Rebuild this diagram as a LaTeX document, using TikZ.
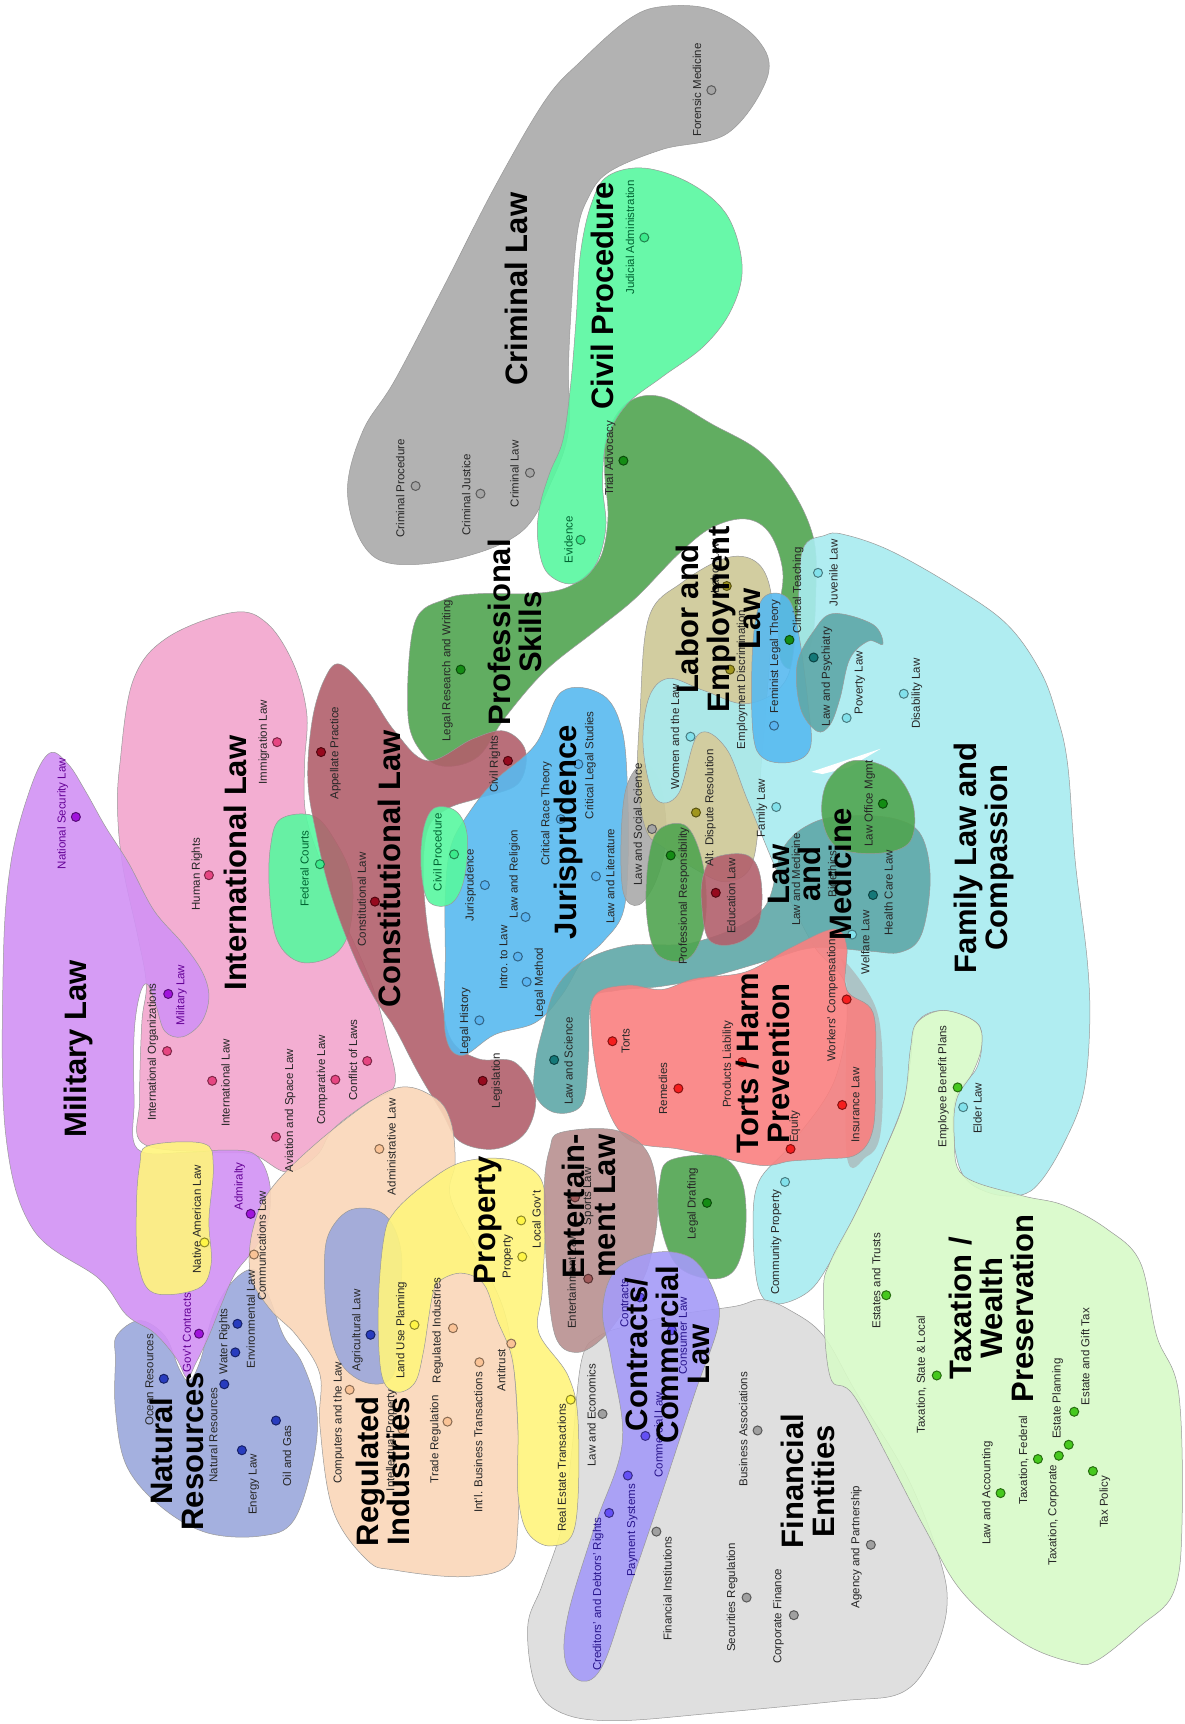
\documentclass[tikz,border=0pt]{standalone}
\usepackage{fontspec}
\setmainfont{Liberation Sans}
\definecolor{crim}{RGB}{170,170,170}
\definecolor{civ}{RGB}{88,248,160}
\definecolor{prof}{RGB}{80,165,80}
\definecolor{intl}{RGB}{242,166,206}
\definecolor{mil}{RGB}{210,146,245}
\definecolor{con}{RGB}{178,96,108}
\definecolor{jur}{RGB}{88,186,240}
\definecolor{lab}{RGB}{206,200,150}
\definecolor{fam}{RGB}{168,236,240}
\definecolor{med}{RGB}{95,168,168}
\definecolor{tort}{RGB}{250,128,128}
\definecolor{prop}{RGB}{255,245,125}
\definecolor{reg}{RGB}{250,215,185}
\definecolor{nat}{RGB}{155,168,220}
\definecolor{ent}{RGB}{185,145,145}
\definecolor{comm}{RGB}{165,155,248}
\definecolor{fin}{RGB}{220,220,220}
\definecolor{tax}{RGB}{216,250,200}
\definecolor{dcrim}{RGB}{165,165,165}
\definecolor{dciv}{RGB}{60,235,140}
\definecolor{dprof}{RGB}{20,140,20}
\definecolor{dintl}{RGB}{230,70,130}
\definecolor{dmil}{RGB}{160,20,220}
\definecolor{dcon}{RGB}{150,10,30}
\definecolor{djur}{RGB}{90,180,240}
\definecolor{dlab}{RGB}{160,150,30}
\definecolor{dfam}{RGB}{130,225,235}
\definecolor{dmed}{RGB}{20,120,120}
\definecolor{dtort}{RGB}{245,30,30}
\definecolor{dprop}{RGB}{255,245,70}
\definecolor{dreg}{RGB}{250,195,150}
\definecolor{dnat}{RGB}{40,60,190}
\definecolor{dent}{RGB}{160,90,90}
\definecolor{dcomm}{RGB}{100,80,245}
\definecolor{dfin}{RGB}{160,160,160}
\definecolor{dtax}{RGB}{70,200,30}
\definecolor{tmil}{RGB}{100,0,150}
\definecolor{tciv}{RGB}{0,100,50}
\definecolor{tcomm}{RGB}{40,20,140}
\newcommand{\itm}[6]{\node[lbl,text=#6] (#1) at (#2) {#3}; \node[dotn=#5] (#1d) at (#4) {};}
\begin{document}
\begin{tikzpicture}[x=1.0994pt,y=-1.0994pt,
  region/.style={draw=black!40, line width=0.5pt, fill opacity=0.9},
  lbl/.style={rotate=90, font=\fontsize{11.5}{12}\selectfont, inner sep=0pt},
  ttl/.style={rotate=90, font=\fontsize{31}{31}\selectfont\bfseries, align=center, inner sep=0pt},
  dotn/.style={circle, inner sep=0pt, minimum size=9pt, line width=1pt, fill=#1, draw=#1!55!black}]
\fill[white] (0,0) rectangle (1077,1568);
\path[use as bounding box] (0,0) rectangle (1077,1568);
% regions
\draw[region, fill=crim] plot[smooth cycle, tension=0.6] coordinates {(316,446) (330,392) (359,346) (405,258) (450,170) (496,91) (529,55) (571,18) (602,6) (648,9) (689,36) (698,70) (662,121) (602,136) (553,157) (534,182) (525,212) (520,273) (517,334) (517,392) (502,437) (475,483) (420,507) (359,513) (330,495)};
\draw[region, fill=prof] plot[smooth cycle, tension=0.6] coordinates {(377,567) (405,545) (435,540) (480,540) (511,536) (532,524) (547,505) (553,470) (550,430) (552,395) (571,366) (602,361) (648,386) (690,410) (720,445) (740,490) (742,540) (738,585) (724,608) (710,600) (708,560) (712,520) (700,485) (678,472) (647,480) (617,504) (578,544) (541,574) (496,610) (459,653) (435,688) (405,697) (384,685) (371,650)};
\draw[region, fill=civ] plot[smooth cycle, tension=0.6] coordinates {(553,160) (587,153) (630,168) (662,197) (675,243) (665,282) (640,315) (602,343) (570,368) (552,400) (548,440) (551,480) (541,515) (520,531) (497,520) (489,490) (491,460) (500,430) (512,400) (519,350) (524,290) (528,230) (538,185)};
\draw[region, fill=intl] plot[smooth cycle, tension=0.6] coordinates {(212,557) (243,567) (267,604) (279,649) (277,695) (278,740) (292,785) (312,835) (338,895) (352,945) (359,987) (334,1003) (303,1027) (288,1051) (261,1066) (230,1050) (194,1048) (130,1040) (127,1000) (129,930) (133,895) (125,850) (112,790) (107,740) (109,695) (121,619) (152,580)};
\draw[region, fill=nat] plot[smooth cycle, tension=0.6] coordinates {(105,1237) (106,1215) (127,1201) (150,1215) (163,1245) (172,1256) (182,1238) (194,1195) (212,1165) (232,1155) (245,1180) (258,1215) (275,1240) (288,1282) (285,1328) (267,1383) (237,1397) (188,1394) (146,1370) (115,1333) (105,1282)};
\draw[region, fill=mil] plot[smooth cycle, tension=0.6] coordinates {(45,685) (62,695) (78,720) (96,752) (117,785) (140,828) (166,858) (184,884) (190,907) (183,930) (166,943) (150,938) (142,915) (134,895) (127,905) (122,940) (122,1000) (125,1045) (170,1048) (205,1046) (232,1050) (245,1075) (244,1110) (232,1135) (214,1158) (202,1185) (190,1215) (178,1240) (170,1253) (160,1235) (140,1212) (115,1196) (90,1163) (30,1118) (5,1030) (3,875) (10,784) (28,716)};
\draw[region, fill=civ] plot[smooth cycle, tension=0.6] coordinates {(255,745) (285,742) (305,765) (320,800) (318,845) (303,869) (273,875) (252,855) (245,810) (246,770)};
\draw[region, fill=con] plot[smooth cycle, tension=0.6] coordinates {(309,604) (334,628) (359,665) (389,692) (430,672) (459,665) (478,683) (471,713) (435,726) (408,735) (390,752) (385,790) (389,845) (400,900) (410,945) (435,963) (468,966) (487,996) (478,1030) (450,1045) (418,1038) (402,1012) (380,975) (359,935) (339,905) (318,860) (300,810) (288,760) (280,710) (284,655) (295,618)};
\draw[region, fill=jur] plot[smooth cycle, tension=0.6] coordinates {(511,629) (548,632) (566,665) (571,726) (571,790) (566,832) (548,857) (529,875) (511,905) (487,930) (450,941) (420,960) (405,940) (405,870) (405,814) (410,770) (426,740) (450,710) (487,677)};
\draw[region, fill=civ] plot[smooth cycle, tension=0.6] coordinates {(395,735) (415,738) (425,760) (422,800) (410,822) (390,820) (383,790) (385,755)};
\draw[region, fill=crim] plot[smooth cycle, tension=0.6] coordinates {(585,695) (600,712) (606,760) (597,800) (581,823) (567,812) (565,760) (570,715)};
\draw[region, fill=lab] plot[smooth cycle, tension=0.6] coordinates {(590,562) (620,530) (662,507) (690,513) (702,545) (700,600) (696,650) (692,700) (690,750) (682,790) (660,802) (635,792) (605,772) (588,756) (580,711) (582,650)};
\draw[region, fill=fam] plot[smooth cycle, tension=0.6] coordinates {(590,635) (608,617) (640,628) (680,640) (715,618) (725,560) (730,500) (750,487) (767,486) (810,501) (870,535) (916,568) (946,610) (961,650) (971,695) (978,784) (989,875) (991,936) (985,996) (967,1041) (946,1075) (928,1087) (900,1085) (876,1069) (867,1032) (870,996) (888,972) (893,948) (888,930) (858,919) (834,930) (828,966) (822,1002) (803,1050) (779,1102) (755,1148) (735,1175) (706,1186) (690,1172) (685,1120) (690,1075) (720,1040) (760,980) (770,900) (740,860) (710,800) (680,728) (660,680) (635,668) (617,722) (596,726) (585,680)};
\fill[white] (738,702) -- (765,693) -- (801,681) -- (772,698) -- (748,704) -- cycle;
\draw[region, fill=jur] plot[smooth cycle, tension=0.6] coordinates {(700,540) (718,546) (727,580) (735,640) (737,680) (720,693) (695,690) (685,668) (684,600) (689,555)};
\draw[region, fill=med] plot[smooth cycle, tension=0.6] coordinates {(758,558) (794,568) (803,586) (790,583) (773,599) (764,635) (755,659) (743,665) (728,644) (725,604) (740,574)};
\draw[region, fill=med] plot[smooth cycle, tension=0.6] coordinates {(487,966) (487,996) (505,1012) (529,1005) (535,966) (538,911) (560,901) (602,897) (648,888) (700,873) (740,862) (790,865) (819,866) (838,850) (846,800) (838,760) (815,745) (775,742) (740,748) (712,772) (693,828) (632,857) (571,860) (529,875) (505,900) (494,935)};
\draw[region, fill=prof] plot[smooth cycle, tension=0.6] coordinates {(775,692) (810,700) (830,730) (828,765) (800,776) (762,771) (748,745) (752,712)};
\draw[region, fill=prof] plot[smooth cycle, tension=0.6] coordinates {(600,754) (625,752) (640,790) (641,840) (626,872) (598,868) (588,830) (590,780)};
\draw[region, fill=con] plot[smooth cycle, tension=0.6] coordinates {(650,780) (680,778) (692,800) (690,840) (670,858) (645,855) (638,820) (640,795)};
\draw[region, fill=crim, fill opacity=0.6, draw=none] plot[smooth cycle, tension=0.6] coordinates {(765,872) (788,900) (800,930) (803,985) (800,1035) (788,1052) (770,1050) (770,900)};
\draw[region, fill=tort] plot[smooth cycle, tension=0.6] coordinates {(541,905) (571,896) (602,900) (632,890) (678,884) (719,862) (758,845) (770,860) (770,900) (794,921) (796,975) (794,1027) (779,1050) (749,1054) (719,1056) (693,1060) (647,1051) (617,1045) (571,1036) (548,996) (538,940)};
\draw[region, fill=prof] plot[smooth cycle, tension=0.6] coordinates {(610,1055) (655,1052) (675,1075) (678,1120) (668,1155) (645,1163) (615,1150) (600,1110) (600,1075)};
\draw[region, fill=fin] plot[smooth cycle, tension=0.6] coordinates {(529,1237) (545,1215) (575,1205) (620,1195) (669,1188) (693,1182) (719,1192) (749,1215) (779,1267) (825,1343) (855,1419) (861,1464) (846,1510) (819,1540) (764,1547) (650,1558) (560,1565) (511,1558) (487,1533) (480,1479) (493,1442) (511,1388) (520,1320)};
\draw[region, fill=tax] plot[smooth cycle, tension=0.6] coordinates {(834,930) (858,919) (888,930) (893,950) (885,975) (870,1000) (868,1035) (876,1069) (928,1087) (967,1096) (1007,1118) (1037,1148) (1052,1215) (1072,1267) (1075,1388) (1067,1449) (1037,1479) (998,1510) (976,1512) (930,1494) (876,1449) (840,1388) (779,1273) (755,1252) (749,1176) (755,1148) (779,1102) (803,1050) (822,1002) (828,954)};
\draw[region, fill=reg] plot[smooth cycle, tension=0.6] coordinates {(359,990) (395,998) (410,1020) (414,1057) (410,1090) (440,1150) (462,1206) (471,1297) (471,1388) (462,1424) (420,1434) (359,1428) (334,1419) (303,1374) (291,1297) (291,1250) (270,1215) (245,1190) (228,1160) (230,1118) (249,1078) (303,1027)};
\draw[region, fill=nat] plot[smooth cycle, tension=0.6] coordinates {(320,1100) (350,1105) (365,1140) (362,1200) (358,1250) (335,1258) (310,1240) (298,1200) (295,1150) (300,1120)};
\draw[region, fill=prop] plot[smooth cycle, tension=0.6] coordinates {(349,1127) (359,1102) (389,1075) (420,1057) (459,1054) (487,1066) (496,1087) (496,1118) (493,1176) (490,1212) (517,1252) (526,1297) (523,1388) (502,1406) (480,1394) (471,1358) (471,1297) (466,1237) (452,1200) (440,1168) (420,1158) (400,1165) (393,1180) (385,1230) (377,1258) (360,1266) (347,1250) (344,1190)};
\draw[region, fill=prop] plot[smooth cycle, tension=0.6] coordinates {(135,1042) (185,1040) (194,1060) (190,1110) (192,1150) (180,1172) (140,1176) (126,1150) (124,1100) (127,1060)};
\draw[region, fill=ent] plot[smooth cycle, tension=0.6] coordinates {(510,1030) (560,1028) (590,1050) (598,1100) (590,1150) (575,1180) (550,1215) (525,1230) (505,1215) (497,1150) (495,1080) (500,1045)};
\draw[region, fill=comm] plot[smooth cycle, tension=0.6] coordinates {(596,1139) (630,1145) (650,1176) (653,1206) (632,1267) (602,1358) (571,1449) (548,1515) (529,1529) (514,1510) (517,1467) (541,1388) (566,1312) (556,1237) (548,1192) (560,1155)};
% items
\itm{forensic}{634,82}{Forensic Medicine}{647,82}{dcrim}{black!85}
\itm{crimproc}{364,444}{Criminal Procedure}{378,442}{dcrim}{black!85}
\itm{crimjust}{424,450}{Criminal Justice}{437,449}{dcrim}{black!85}
\itm{crimlaw}{468,431}{Criminal Law}{482,430}{dcrim}{black!85}
\itm{judadm}{573,216}{Judicial Administration}{586,216}{dciv}{tciv}
\itm{evidence}{517,491}{Evidence}{528,491}{dciv}{tciv}
\itm{civproc}{398,775}{Civil Procedure}{413,777}{dciv}{tciv}
\itm{fedcourts}{277,790}{Federal Courts}{291,786}{dciv}{tciv}
\itm{trialadv}{555,417}{Trial Advocacy}{567,419}{dprof}{black!85}
\itm{legres}{407,610}{Legal Research and Writing}{419,609}{dprof}{black!85}
\itm{clinical}{726,537}{Clinical Teaching}{718,582}{dprof}{black!85}
\itm{profresp}{622,815}{Professional Responsibility}{610,778}{dprof}{black!85}
\itm{legdraft}{630,1095}{Legal Drafting}{643,1094}{dprof}{black!85}
\itm{lawoffice}{791,731}{Law Office Mgmt}{803,731}{dprof}{black!85}
\itm{immig}{240,675}{Immigration Law}{252,675}{dintl}{black!85}
\itm{humanrights}{179,795}{Human Rights}{190,796}{dintl}{black!85}
\itm{intorg}{139,957}{International Organizations}{152,956}{dintl}{black!85}
\itm{intlaw}{205,985}{International Law}{193,983}{dintl}{black!85}
\itm{aviation}{264,1010}{Aviation and Space Law}{251,1034}{dintl}{black!85}
\itm{comparative}{293,982}{Comparative Law}{305,982}{dintl}{black!85}
\itm{conflict}{321,964}{Conflict of Laws}{334,965}{dintl}{black!85}
\itm{natsec}{57,740}{National Security Law}{69,743}{dmil}{tmil}
\itm{millaw}{165,905}{Military Law}{153,904}{dmil}{tmil}
\itm{admiralty}{218,1079}{Admiralty}{228,1104}{dmil}{tmil}
\itm{govcon}{170,1212}{Gov't Contracts}{181,1213}{dmil}{tmil}
\itm{appellate}{305,685}{Appellate Practice}{292,684}{dcon}{black!85}
\itm{conlaw}{329,818}{Constitutional Law}{341,820}{dcon}{black!85}
\itm{civrights}{450,695}{Civil Rights}{462,692}{dcon}{black!85}
\itm{legislation}{452,983}{Legislation}{439,983}{dcon}{black!85}
\itm{education}{665,815}{Education Law}{651,812}{dcon}{black!85}
\itm{jurisp}{428,805}{Jurisprudence}{441,805}{djur}{black!85}
\itm{religion}{468,795}{Law and Religion}{478,834}{djur}{black!85}
\itm{intro}{458,871}{Intro. to Law}{471,870}{djur}{black!85}
\itm{method}{491,894}{Legal Method}{479,893}{djur}{black!85}
\itm{history}{423,929}{Legal History}{436,928}{djur}{black!85}
\itm{critrace}{497,740}{Critical Race Theory}{510,745}{djur}{black!85}
\itm{critlegal}{537,696}{Critical Legal Studies}{526,695}{djur}{black!85}
\itm{literature}{555,797}{Law and Literature}{542,797}{djur}{black!85}
\itm{feminist}{705,597}{Feminist Legal Theory}{704,660}{djur}{black!85}
\itm{socsci}{580,750}{Law and Social Science}{593,754}{dcrim}{black!85}
\itm{laborlaw}{650,515}{Labor Law}{661,533}{dlab}{black!85}
\itm{empdisc}{675,618}{Employment Discrimination}{664,609}{dlab}{black!85}
\itm{adr}{646,735}{Alt. Dispute Resolution}{633,739}{dlab}{black!85}
\itm{women}{614,670}{Women and the Law}{628,670}{dfam}{black!85}
\itm{famlaw}{693,735}{Family Law}{706,734}{dfam}{black!85}
\itm{juvenile}{758,521}{Juvenile Law}{744,521}{dfam}{black!85}
\itm{poverty}{782,621}{Poverty Law}{770,653}{dfam}{black!85}
\itm{disability}{834,631}{Disability Law}{822,631}{dfam}{black!85}
\itm{welfare}{787,857}{Welfare Law}{775,850}{dfam}{black!85}
\itm{elder}{889,1008}{Elder Law}{876,1007}{dfam}{black!85}
\itm{community}{706,1130}{Community Property}{714,1075}{dfam}{black!85}
\itm{psych}{752,615}{Law and Psychiatry}{740,598}{dmed}{black!85}
\itm{science}{517,965}{Law and Science}{504,964}{dmed}{black!85}
\itm{health}{808,812}{Health Care Law}{794,814}{dmed}{black!85}
\node[lbl,text=black!85] (lawmed) at (724,800) {Law and Medicine};
\node[lbl,text=black!85] (bioeth) at (757,795) {Bioethics};
\itm{torts}{569,947}{Torts}{557,947}{dtort}{black!85}
\itm{remedies}{603,990}{Remedies}{617,990}{dtort}{black!85}
\itm{products}{662,968}{Products Liability}{675,966}{dtort}{black!85}
\itm{workers}{757,910}{Workers' Compensation}{770,909}{dtort}{black!85}
\itm{insurance}{778,1005}{Insurance Law}{766,1005}{dtort}{black!85}
\itm{equity}{723,1025}{Equity}{719,1045}{dtort}{black!85}
\itm{property}{462,1143}{Property}{475,1143}{dprop}{black!85}
\itm{localgov}{488,1109}{Local Gov't}{474,1110}{dprop}{black!85}
\itm{landuse}{365,1210}{Land Use Planning}{377,1205}{dprop}{black!85}
\itm{realestate}{511,1335}{Real Estate Transactions}{519,1273}{dprop}{black!85}
\itm{native}{179,1109}{Native American Law}{186,1130}{dprop}{black!85}
\itm{admin}{356,1043}{Administrative Law}{345,1045}{dreg}{black!85}
\itm{commun}{238,1133}{Communications Law}{231,1141}{dreg}{black!85}
\itm{computers}{308,1294}{Computers and the Law}{318,1264}{dreg}{black!85}
\itm{intellect}{356,1310}{Intellectual Property}{366,1300}{dreg}{black!85}
\itm{regind}{398,1210}{Regulated Industries}{412,1208}{dreg}{black!85}
\itm{trade}{396,1309}{Trade Regulation}{407,1293}{dreg}{black!85}
\itm{intlbus}{435,1312}{Int'l. Business Transactions}{436,1239}{dreg}{black!85}
\itm{antitrust}{456,1246}{Antitrust}{465,1222}{dreg}{black!85}
\itm{ocean}{136,1255}{Ocean Resources}{149,1254}{dnat}{black!85}
\itm{natres}{194,1305}{Natural Resources}{204,1259}{dnat}{black!85}
\itm{water}{204,1220}{Water Rights}{214,1230}{dnat}{black!85}
\itm{environ}{228,1200}{Environmental Law}{216,1204}{dnat}{black!85}
\itm{energy}{231,1350}{Energy Law}{220,1319}{dnat}{black!85}
\itm{oilgas}{261,1324}{Oil and Gas}{251,1292}{dnat}{black!85}
\itm{agri}{325,1210}{Agricultural Law}{337,1214}{dnat}{black!85}
\itm{sports}{535,1088}{Sports Law}{523,1089}{dent}{black!85}
\itm{entlaw}{520,1165}{Entertainment Law}{535,1163}{dent}{black!85}
\itm{contracts}{568,1185}{Contracts}{582,1180}{dcomm}{tcomm}
\itm{consumer}{621,1215}{Consumer Law}{611,1210}{dcomm}{tcomm}
\itm{commercial}{599,1305}{Commercial Law}{587,1306}{dcomm}{tcomm}
\itm{payment}{575,1392}{Payment Systems}{571,1342}{dcomm}{tcomm}
\itm{creditors}{544,1450}{Creditors' and Debtors' Rights}{554,1376}{dcomm}{tcomm}
\itm{lawecon}{538,1287}{Law and Economics}{548,1286}{dfin}{black!85}
\itm{fininst}{607,1445}{Financial Institutions}{597,1393}{dfin}{black!85}
\itm{busassoc}{676,1300}{Business Associations}{689,1301}{dfin}{black!85}
\itm{securities}{666,1453}{Securities Regulation}{679,1453}{dfin}{black!85}
\itm{corpfin}{708,1470}{Corporate Finance}{722,1469}{dfin}{black!85}
\itm{agency}{779,1407}{Agency and Partnership}{792,1405}{dfin}{black!85}
\itm{empben}{858,988}{Employee Benefit Plans}{871,989}{dtax}{black!85}
\itm{estates}{797,1165}{Estates and Trusts}{806,1178}{dtax}{black!85}
\itm{taxstate}{838,1250}{Taxation, State \& Local}{852,1251}{dtax}{black!85}
\itm{lawacc}{898,1358}{Law and Accounting}{910,1358}{dtax}{black!85}
\itm{taxfed}{931,1328}{Taxation, Federal}{944,1327}{dtax}{black!85}
\itm{taxcorp}{958,1378}{Taxation, Corporate}{963,1324}{dtax}{black!85}
\itm{estplan}{962,1272}{Estate Planning}{972,1314}{dtax}{black!85}
\itm{estgift}{987,1234}{Estate and Gift Tax}{977,1284}{dtax}{black!85}
\itm{taxpol}{1005,1366}{Tax Policy}{994,1338}{dtax}{black!85}
% titles
\node[ttl] (Tcrim) at (470,263) {Criminal Law};
\node[ttl] (Tciv) at (548,269) {Civil Procedure};
\node[ttl] (Tprof) at (468,575) {Professional\\Skills};
\node[ttl] (Tintl) at (214,785) {International Law};
\node[ttl] (Tmil) at (71,954) {Military Law};
\node[ttl] (Tcon) at (354,790) {Constitutional Law};
\node[ttl] (Tjur) at (517,757) {Jurisprudence};
\node[ttl] (Tlab) at (653,563) {Labor and\\Employment\\Law};
\node[ttl] (Tfam) at (895,780) {Family Law and\\Compassion};
\node[ttl] (Tmed) at (737,795) {Law\\and\\Medicine};
\node[ttl] (Ttort) at (694,967) {Torts / Harm\\Prevention};
\node[ttl] (Tprop) at (444,1110) {Property};
\node[ttl] (Tent) at (536,1097) {Entertain-\\ment Law};
\node[ttl] (Tcomm) at (607,1232) {Contracts/\\Commercial\\Law};
\node[ttl] (Tfin) at (735,1347) {Financial\\Entities};
\node[ttl] (Ttax) at (902,1190) {Taxation /\\Wealth\\Preservation};
\node[ttl] (Tnat) at (161,1320) {Natural\\Resources};
\node[ttl] (Treg) at (348,1338) {Regulated\\Industries};
\end{tikzpicture}
\end{document}
